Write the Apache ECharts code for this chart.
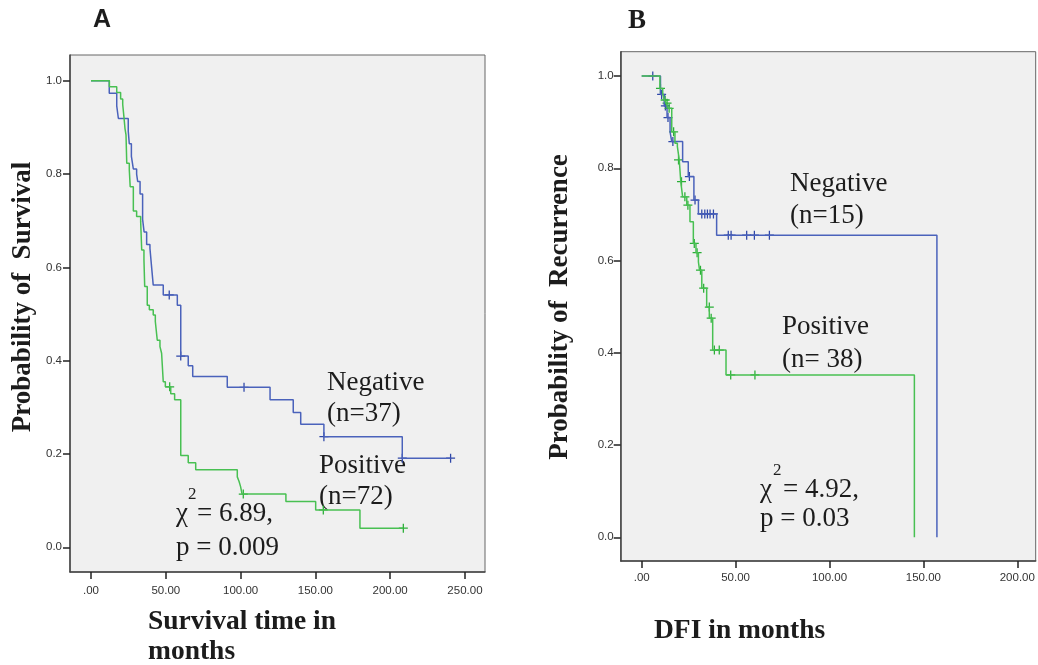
<!DOCTYPE html>
<html><head><meta charset="utf-8">
<script src="https://cdn.jsdelivr.net/npm/echarts@6/dist/echarts.min.js"></script>
<style>html,body{margin:0;padding:0;background:#fff}#c{width:1038px;height:665px}</style>
</head><body><div id="c"></div>
<script>
// ---- Panel A: overall survival (time in months, survival probability) ----
const survNegative = [[0,1],[12.2,0.973],[17.2,0.946],[18.3,0.919],[24.9,0.892],[25.6,0.865],[27,0.838],[28.3,0.811],[30.5,0.8],[31.2,0.784],[32.8,0.757],[34.5,0.703],[35.5,0.676],[37.2,0.649],[39.4,0.641],[40.5,0.601],[41.6,0.562],[48.3,0.541],[57.7,0.519],[60,0.41],[65,0.389],[68,0.366],[91.1,0.343],[119.7,0.316],[135.2,0.289],[140.2,0.264],[155.7,0.237],[208.1,0.191],[240.4,0.191]];
const survNegativeCensored = [[52.3,0.541],[60,0.41],[102.3,0.343],[155.7,0.237],[208.1,0.191],[240.4,0.191]];
const survPositive = [[0,1],[12.3,0.987],[17.2,0.975],[19.8,0.961],[21.2,0.949],[22,0.923],[22.7,0.898],[23.4,0.884],[23.9,0.823],[25.6,0.809],[26.2,0.773],[28.3,0.721],[30.5,0.709],[33.2,0.698],[33.9,0.637],[35.4,0.616],[35.9,0.559],[37.6,0.519],[39,0.509],[41.6,0.498],[43,0.484],[44.3,0.444],[46.1,0.43],[47.2,0.416],[48.3,0.355],[49.7,0.344],[53.3,0.329],[55.9,0.316],[60,0.197],[65,0.181],[70,0.166],[97.8,0.151],[99,0.141],[100,0.13],[101,0.114],[130.3,0.098],[150.2,0.08],[179.8,0.041],[208.8,0.041]];
const survPositiveCensored = [[52.6,0.344],[101.8,0.114],[155.3,0.08],[208.8,0.041]];

// ---- Panel B: disease-free interval (months, probability) ----
const dfiNegative = [[0,1],[10,0.96],[12,0.935],[13.5,0.91],[15.1,0.879],[16,0.858],[21.8,0.814],[24.8,0.782],[27.8,0.731],[30.2,0.701],[39.9,0.655],[157.2,0]];
const dfiNegativeCensored = [[5.9,1],[10.6,0.96],[12.6,0.935],[14,0.91],[16.6,0.858],[25.4,0.782],[28.4,0.731],[32,0.701],[33.6,0.701],[35,0.701],[36.4,0.701],[38.2,0.701],[46.1,0.655],[47.6,0.655],[55.9,0.655],[60,0.655],[68,0.655]];
const dfiPositive = [[0,1],[9.7,0.973],[11.2,0.962],[12,0.948],[13,0.941],[14,0.93],[16,0.879],[17.7,0.854],[19,0.847],[20,0.818],[20.8,0.771],[21.8,0.738],[24,0.72],[25.7,0.684],[27.5,0.637],[28.9,0.617],[30.2,0.597],[30.8,0.579],[32,0.54],[34.6,0.499],[36,0.475],[37.8,0.406],[44.9,0.352],[145.2,0]];
const dfiPositiveCensored = [[10,0.973],[12.5,0.948],[13.5,0.941],[14.6,0.93],[17,0.879],[19.6,0.818],[21.2,0.771],[23,0.738],[24.6,0.72],[28,0.637],[29.5,0.617],[31.3,0.579],[33,0.54],[36,0.499],[37,0.475],[38.7,0.406],[41.3,0.406],[47.4,0.352],[60.3,0.352]];

// ---- tick labels ----
const xTicksA = [0,50,100,150,200,250];
const xTicksB = [0,50,100,150,200];
const yTicks = [0,0.2,0.4,0.6,0.8,1.0];

const BLUE = '#4a62bb', GREEN = '#48c052';
const BLUE_C = '#2f47a8', GREEN_C = '#2aae37';
const CROSS = 'path://M4.3,0H5.7V4.3H10V5.7H5.7V10H4.3V5.7H0V4.3H4.3Z';
const SERIF = '"Liberation Serif","Times New Roman",serif';
const SANS = '"Liberation Sans",Arial,sans-serif';
const TXT = '#1c1c1c';

function xAxisCfg(grid, min, max, ticks, margin) {
  return {
    gridIndex: grid, type: 'value', min: min, max: max,
    axisLine: {show: true, onZero: false, lineStyle: {color: '#444', width: 1.5}},
    axisTick: {show: true, length: 7, customValues: ticks, lineStyle: {color: '#222', width: 1.5}},
    axisLabel: {customValues: ticks, margin: margin, fontSize: 11.5, color: '#333', fontFamily: SANS,
      formatter: v => v === 0 ? '.00' : v.toFixed(2)},
    splitLine: {show: false}
  };
}
function yAxisCfg(grid, min, max, margin) {
  return {
    gridIndex: grid, type: 'value', min: min, max: max,
    axisLine: {show: true, onZero: false, lineStyle: {color: '#444', width: 1.5}},
    axisTick: {show: true, length: 7, customValues: yTicks, lineStyle: {color: '#222', width: 1.5}},
    axisLabel: {customValues: yTicks, margin: margin, fontSize: 11.5, color: '#333', fontFamily: SANS,
      formatter: v => v.toFixed(1)},
    splitLine: {show: false}
  };
}
function curve(data, color, idx) {
  return {type: 'line', step: 'end', data: data, xAxisIndex: idx, yAxisIndex: idx,
    showSymbol: false, symbol: 'none', lineStyle: {color: color, width: 1.5}, itemStyle: {color: color},
    animation: false, silent: true};
}
function marks(data, color, idx) {
  return {type: 'scatter', data: data, xAxisIndex: idx, yAxisIndex: idx, symbol: CROSS, symbolSize: 9,
    itemStyle: {color: color, opacity: 1}, animation: false, silent: true};
}
function txt(text, x, y, size, opts) {
  opts = opts || {};
  return {type: 'text', x: x, y: y, rotation: opts.rot || 0, silent: true,
    style: {text: text, fill: TXT, textAlign: opts.align || 'left', textVerticalAlign: 'middle',
      font: (opts.bold ? 'bold ' : '') + size + 'px ' + (opts.family || SERIF)}};
}

const chart = echarts.init(document.getElementById('c'), null, {renderer: 'canvas'});
chart.setOption({
  backgroundColor: '#ffffff',
  animation: false,
  grid: [
    {left: 70, top: 55, width: 415, height: 517, show: true, backgroundColor: '#f0f0f0', borderColor: '#666', borderWidth: 1},
    {left: 620.7, top: 51.7, width: 415, height: 509.3, show: true, backgroundColor: '#f0f0f0', borderColor: '#666', borderWidth: 1}
  ],
  xAxis: [xAxisCfg(0, -14.04, 263.4, xTicksA, 13), xAxisCfg(1, -11.18, 209.8, xTicksB, 11)],
  yAxis: [yAxisCfg(0, -0.0529, 1.0551, 8), yAxisCfg(1, -0.0514, 1.0527, 7)],
  series: [
    curve(survNegative, BLUE, 0), curve(survPositive, GREEN, 0),
    marks(survNegativeCensored, BLUE_C, 0), marks(survPositiveCensored, GREEN_C, 0),
    curve(dfiNegative, BLUE, 1), curve(dfiPositive, GREEN, 1),
    marks(dfiNegativeCensored, BLUE_C, 1), marks(dfiPositiveCensored, GREEN_C, 1)
  ],
  graphic: [
    txt('A', 102, 20, 25, {bold: true, family: SANS, align: 'center'}),
    txt('B', 637, 21, 27, {bold: true, align: 'center'}),
    txt('Probability of  Survival', 23, 297, 27, {bold: true, align: 'center', rot: Math.PI / 2}),
    txt('Probability of  Recurrence', 560, 307, 27, {bold: true, align: 'center', rot: Math.PI / 2}),
    txt('Survival time in', 148, 622, 27.5, {bold: true}),
    txt('months', 148, 652, 27.5, {bold: true}),
    txt('DFI in months', 654, 631, 27.5, {bold: true}),
    // Panel A annotations
    txt('Negative', 327, 383, 27),
    txt('(n=37)', 327, 414, 27),
    txt('Positive', 319, 466, 27),
    txt('(n=72)', 319, 497, 27),
    txt('χ', 176, 514, 27),
    txt('2', 188, 495, 17),
    txt('= 6.89,', 197, 514, 27),
    txt('p = 0.009', 176, 548, 27),
    // Panel B annotations
    txt('Negative', 790, 184, 27),
    txt('(n=15)', 790, 216, 27),
    txt('Positive', 782, 327, 27),
    txt('(n= 38)', 782, 360, 27),
    txt('χ', 760, 490, 27),
    txt('2', 773, 471, 17),
    txt('= 4.92,', 783, 490, 27),
    txt('p = 0.03', 760, 519, 27)
  ]
});
</script></body></html>
